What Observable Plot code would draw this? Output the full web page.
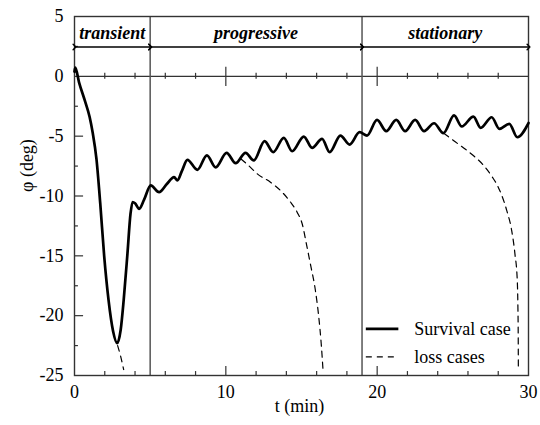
<!DOCTYPE html>
<html><head><meta charset="utf-8">
<script src="https://cdn.jsdelivr.net/npm/d3@7"></script>
<script src="https://cdn.jsdelivr.net/npm/@observablehq/plot@0.6"></script>
<style>
body{margin:0;background:#fff}
#chart svg{display:block}
</style>
</head><body><div id="chart"></div>
<script>
// ---- data ----
const survivalT = [0,0.05,0.3,0.7,1.0,1.2,1.45,1.7,1.96,2.25,2.55,2.82,3.05,3.25,3.5,3.7,3.84,4.0,4.27,4.6,5.04,5.59,6.1,6.58,6.8,7.1,7.46,8.12,8.75,9.33,10.05,10.65,11.3,11.85,12.56,13.13,13.83,14.38,15.15,15.7,16.36,16.86,17.57,18.18,18.84,19.33,19.99,20.6,21.26,21.85,22.51,23.1,23.76,24.38,25.08,25.59,26.36,26.84,27.57,28.07,28.73,29.26,30];
const survivalPhi = [0.4,0.72,-0.5,-2.1,-3.4,-4.7,-6.9,-10.6,-15.0,-18.7,-21.3,-22.3,-21.2,-18.7,-14.8,-11.5,-10.5,-10.6,-11.07,-10.3,-9.12,-9.68,-9.0,-8.43,-8.7,-7.9,-6.98,-7.81,-6.6,-7.6,-6.39,-7.26,-6.39,-7.03,-5.42,-6.34,-5.14,-6.26,-5.03,-5.98,-5.22,-6.34,-4.95,-5.7,-4.67,-4.95,-3.64,-4.58,-3.64,-4.58,-3.64,-4.58,-3.92,-4.75,-3.27,-4.19,-3.36,-4.3,-3.42,-4.39,-3.97,-5.09,-3.9];

const loss1T = [2.85,3.05,3.25];
const loss1Phi = [-22.5,-23.4,-24.5];
const loss2T = [11.0,11.5,12.08,12.95,13.72,14.27,14.71,15.04,15.37,15.59,15.92,16.14,16.3,16.43];
const loss2Phi = [-6.9,-7.45,-8.15,-8.85,-9.68,-10.5,-11.35,-12.3,-14.3,-15.7,-17.9,-20.1,-22.3,-24.7];
const loss3T = [24.4,25.04,26.14,27.0,27.6,28.0,28.56,28.89,29.1,29.26,29.3,29.32,29.33];
const loss3Phi = [-4.75,-5.36,-6.4,-7.4,-8.4,-9.26,-11.2,-12.9,-14.8,-17.1,-19.3,-21.5,-24.5];

const phaseNames = ["transient","progressive","stationary"];
const phaseStart = [0,5,19];
const phaseEnd = [5,19,30];

const xTickLabels = [0,10,20,30];
const yTickLabels = [5,0,-5,-10,-15,-20,-25];
const xMajorTicks = [10,20];
const xMinorTicks = [2,4,6,8,12,14,16,18,22,24,26,28];
const yMajorTicks = [-5,-10,-15,-20];
const yMinorTicks = [2.5,-2.5,-7.5,-12.5,-17.5,-22.5];

const legendLabels = ["Survival case","loss cases"];

// ---- build tables ----
const survival = survivalT.map((t,i)=>({t, phi: survivalPhi[i]}));
const loss = [
  ...loss1T.map((t,i)=>({t, phi: loss1Phi[i], k: 1})),
  ...loss2T.map((t,i)=>({t, phi: loss2Phi[i], k: 2})),
  ...loss3T.map((t,i)=>({t, phi: loss3Phi[i], k: 3}))
];
const phases = phaseNames.map((name,i)=>({name, start: phaseStart[i], end: phaseEnd[i]}));

// ---- layout constants (not data) ----
const font = "Liberation Serif";
const ink = "#000";
const frameInk = "#333";
const arrowY = 2.45, phaseLabelY = 3.6;
const legX1 = 19.25, legX2 = 21.4, legTX = 22.45, legY = [-21.1, -23.45];

const plot = Plot.plot({
  width: 540, height: 425,
  marginLeft: 74, marginRight: 12, marginTop: 16, marginBottom: 50,
  style: {fontFamily: font, fontSize: "18px", color: ink, background: "#fff"},
  x: {domain: [0,30]},
  y: {domain: [-25,5]},
  marks: [
    // ticks
    Plot.ruleX(xMinorTicks, {x: d=>d, y1: -25, y2: -24.67, stroke: frameInk, strokeWidth: 1.2}),
    Plot.ruleX(xMajorTicks, {x: d=>d, y1: -25, y2: -24.25, stroke: frameInk, strokeWidth: 1.2}),
    Plot.ruleX(xMinorTicks, {x: d=>d, y1: 0.25, y2: -0.25, stroke: frameInk, strokeWidth: 1.2}),
    Plot.ruleX(xMajorTicks, {x: d=>d, y1: 0.75, y2: -0.85, stroke: frameInk, strokeWidth: 1.2}),
    Plot.ruleY(yMinorTicks, {y: d=>d, x1: 0, x2: 0.26, stroke: frameInk, strokeWidth: 1.2}),
    Plot.ruleY(yMajorTicks, {y: d=>d, x1: 0, x2: 0.6, stroke: frameInk, strokeWidth: 1.2}),
    Plot.ruleY([0], {stroke: frameInk, strokeWidth: 1.3}),
    Plot.ruleX(phaseStart.slice(1), {x: d=>d, stroke: "#555", strokeWidth: 1.5}),
    Plot.frame({stroke: frameInk, strokeWidth: 1.4}),
    // phase arrows + labels
    Plot.link(phases, {x1: "start", x2: "end", y1: ()=>arrowY, y2: ()=>arrowY, stroke: ink, strokeWidth: 1.4, markerStart: "arrow", markerEnd: "arrow"}),
    Plot.text(phases, {x: d=>(d.start+d.end)/2, y: ()=>phaseLabelY, text: "name", fontFamily: font, fontWeight: "bold", fontStyle: "italic", fontSize: 18, fill: ink}),
    // data
    Plot.line(loss, {x: "t", y: "phi", z: "k", curve: "monotone-x", stroke: ink, strokeWidth: 1.2, strokeDasharray: "6,5"}),
    Plot.line(survival, {x: "t", y: "phi", curve: "monotone-x", stroke: ink, strokeWidth: 2.7}),
    // legend
    Plot.link([legendLabels[0]], {x1: ()=>legX1, x2: ()=>legX2, y1: ()=>legY[0], y2: ()=>legY[0], stroke: ink, strokeWidth: 2.7}),
    Plot.link([legendLabels[1]], {x1: ()=>legX1, x2: ()=>legX2, y1: ()=>legY[1], y2: ()=>legY[1], stroke: ink, strokeWidth: 1.2, strokeDasharray: "6,5"}),
    Plot.text(legendLabels, {x: ()=>legTX, y: (d,i)=>legY[i], text: d=>d, textAnchor: "start", fontFamily: font, fontSize: 18, fill: ink}),
    // axes
    Plot.axisX({ticks: xTickLabels, tickSize: 0, tickPadding: 10, tickFormat: d=>String(d), label: null, fontSize: 18, fontFamily: font}),
    Plot.axisY({ticks: yTickLabels, tickSize: 0, tickPadding: 11, tickFormat: d=>String(d), label: null, fontSize: 18, fontFamily: font}),
    // axis titles
    Plot.text(["t (min)"], {frameAnchor: "bottom", dy: 36, dx: -2, text: d=>d, fontFamily: font, fontSize: 18, ariaLabel: "x-title", fill: ink}),
    Plot.text(["φ (deg)"], {frameAnchor: "left", dx: -47, dy: -4, rotate: -90, text: d=>d, fontFamily: font, fontSize: 18, ariaLabel: "y-title", fill: ink})
  ]
});
document.getElementById("chart").appendChild(plot);

// rich styling of axis titles (symbol bold italic)
function richTitle(label, sym, rest) {
  d3.select(plot).selectAll(`g[aria-label="${label}"] text`).each(function(){
    const t = d3.select(this);
    t.text(null);
    t.append("tspan").attr("font-weight","bold").attr("font-style","italic").text(sym);
    t.append("tspan").text(rest);
  });
}
richTitle("x-title","t"," (min)");
richTitle("y-title","φ"," (deg)");
</script>
</body></html>
